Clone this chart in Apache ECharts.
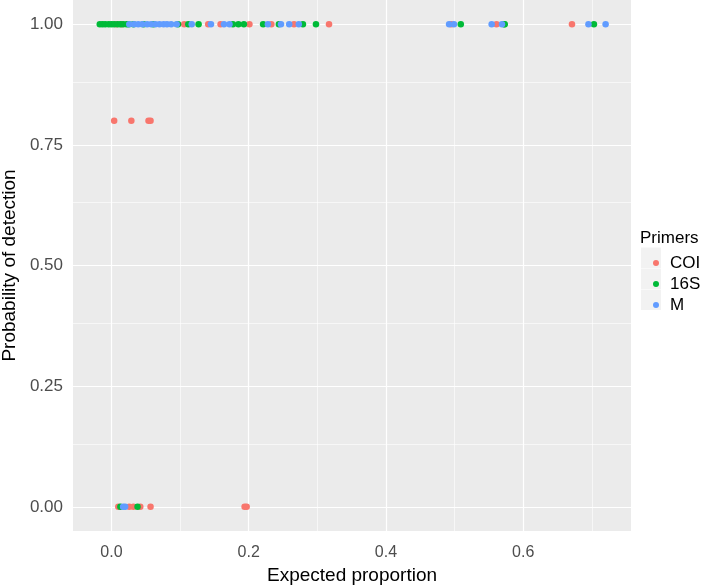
<!DOCTYPE html>
<html><head><meta charset="utf-8">
<script src="https://cdn.jsdelivr.net/npm/echarts@6/dist/echarts.min.js"></script>
<style>html,body{margin:0;padding:0;background:#fff}#c{width:709px;height:586px}</style>
</head><body><div id="c"></div>
<script>
// ---- data ----
const primers = ['COI', '16S', 'M'];
const primerColors = ['#F8766D', '#00BA38', '#619CFF'];

// [expected proportion, probability of detection]
const coiPoints = [
  [0.007, 1], [0.015, 1], [0.106, 1], [0.141, 1], [0.159, 1], [0.201, 1], [0.233, 1],
  [0.266, 1], [0.317, 1], [0.495, 1], [0.561, 1], [0.671, 1],
  [0.004, 0.8], [0.029, 0.8], [0.054, 0.8], [0.057, 0.8],
  [0.010, 0], [0.026, 0], [0.032, 0], [0.042, 0], [0.057, 0], [0.194, 0], [0.197, 0]
];
const s16Points = [
  [-0.017, 1], [-0.013, 1], [-0.009, 1], [-0.004, 1], [0.000, 1], [0.004, 1], [0.009, 1],
  [0.013, 1], [0.017, 1], [0.022, 1], [0.025, 1], [0.032, 1], [0.047, 1], [0.061, 1],
  [0.097, 1], [0.112, 1], [0.127, 1], [0.177, 1], [0.185, 1], [0.193, 1], [0.221, 1],
  [0.244, 1], [0.279, 1], [0.298, 1], [0.509, 1], [0.572, 1], [0.573, 1], [0.703, 1],
  [0.013, 0], [0.038, 0]
];
const mPoints = [
  [0.026, 1], [0.033, 1], [0.039, 1], [0.045, 1], [0.052, 1], [0.058, 1], [0.064, 1],
  [0.070, 1], [0.076, 1], [0.081, 1], [0.087, 1], [0.095, 1], [0.117, 1], [0.145, 1],
  [0.164, 1], [0.172, 1], [0.228, 1], [0.247, 1], [0.259, 1], [0.273, 1], [0.492, 1],
  [0.499, 1], [0.554, 1], [0.569, 1], [0.695, 1], [0.720, 1],
  [0.017, 0], [0.020, 0]
];
const primerPoints = [coiPoints, s16Points, mPoints];

const xTicks = [0, 0.2, 0.4, 0.6];
const xMinor = [0.1, 0.3, 0.5, 0.7];
const yTicks = [0, 0.25, 0.5, 0.75, 1];
const yMinor = [0.125, 0.375, 0.625, 0.875];

// ---- chart ----
const chart = echarts.init(document.getElementById('c'), null, { renderer: 'canvas' });
const FONT = '"Liberation Sans", Arial, Helvetica, sans-serif';

const gridLines = [];
xMinor.forEach(v => gridLines.push({ xAxis: v, lineStyle: { width: 0.6 } }));
yMinor.forEach(v => gridLines.push({ yAxis: v, lineStyle: { width: 0.6 } }));
xTicks.forEach(v => gridLines.push({ xAxis: v, lineStyle: { width: 1.2 } }));
yTicks.forEach(v => gridLines.push({ yAxis: v, lineStyle: { width: 1.2 } }));

const series = [{
  type: 'line', data: [], silent: true, z: 1, legendHoverLink: false,
  markLine: {
    silent: true, z: 1, symbol: ['none', 'none'], label: { show: false }, animation: false,
    lineStyle: { color: '#FFFFFF', type: 'solid' },
    emphasis: { disabled: true },
    data: gridLines
  }
}];
primers.forEach((p, i) => series.push({
  name: p, type: 'scatter', z: 3, symbol: 'circle', symbolSize: 6.5,
  itemStyle: { color: primerColors[i], opacity: 1 },
  data: primerPoints[i]
}));

chart.setOption({
  animation: false,
  backgroundColor: '#FFFFFF',
  color: primerColors,
  textStyle: { fontFamily: FONT },
  grid: { left: 73, right: 78, top: 0, bottom: 55, show: true, backgroundColor: '#EBEBEB', borderWidth: 0, containLabel: false, outerBoundsMode: 'none' },
  xAxis: {
    type: 'value', min: -0.056, max: 0.757,
    name: 'Expected proportion', nameLocation: 'middle', nameGap: 34,
    nameTextStyle: { fontSize: 19, color: '#000000', fontFamily: FONT },
    axisLine: { show: false },
    axisTick: { show: true, customValues: xTicks, length: 4, lineStyle: { color: '#333333', width: 1 } },
    axisLabel: { customValues: xTicks, formatter: v => v.toFixed(1), color: '#4D4D4D', fontSize: 16, margin: 14, fontFamily: FONT },
    splitLine: { show: false }
  },
  yAxis: {
    type: 'value', min: -0.05, max: 1.05,
    name: 'Probability of detection', nameLocation: 'middle', nameGap: 52, nameRotate: 90,
    nameTextStyle: { fontSize: 19, color: '#000000', fontFamily: FONT },
    axisLine: { show: false },
    axisTick: { show: true, customValues: yTicks, length: 4, lineStyle: { color: '#333333', width: 1 } },
    axisLabel: { customValues: yTicks, formatter: v => v.toFixed(2), color: '#4D4D4D', fontSize: 17, margin: 10, fontFamily: FONT },
    splitLine: { show: false }
  },
  legend: {
    data: primers, orient: 'vertical', left: 648, top: 247.5, itemGap: 0,
    icon: 'circle', itemWidth: 6, itemHeight: 6, selectedMode: false,
    textStyle: { fontSize: 17, lineHeight: 21, color: '#000000', padding: [0, 0, 0, 6], fontFamily: FONT }
  },
  graphic: [
    { type: 'text', left: 640, top: 230, style: { text: 'Primers', fontSize: 17, fill: '#000000', fontFamily: FONT } },
    { type: 'rect', shape: { x: 641, y: 247.5, width: 20, height: 20.5 }, style: { fill: '#F2F2F2' }, z: -1 },
    { type: 'rect', shape: { x: 641, y: 268.5, width: 20, height: 20.5 }, style: { fill: '#F2F2F2' }, z: -1 },
    { type: 'rect', shape: { x: 641, y: 289.5, width: 20, height: 20.5 }, style: { fill: '#F2F2F2' }, z: -1 }
  ],
  series: series
});
</script>
</body></html>
